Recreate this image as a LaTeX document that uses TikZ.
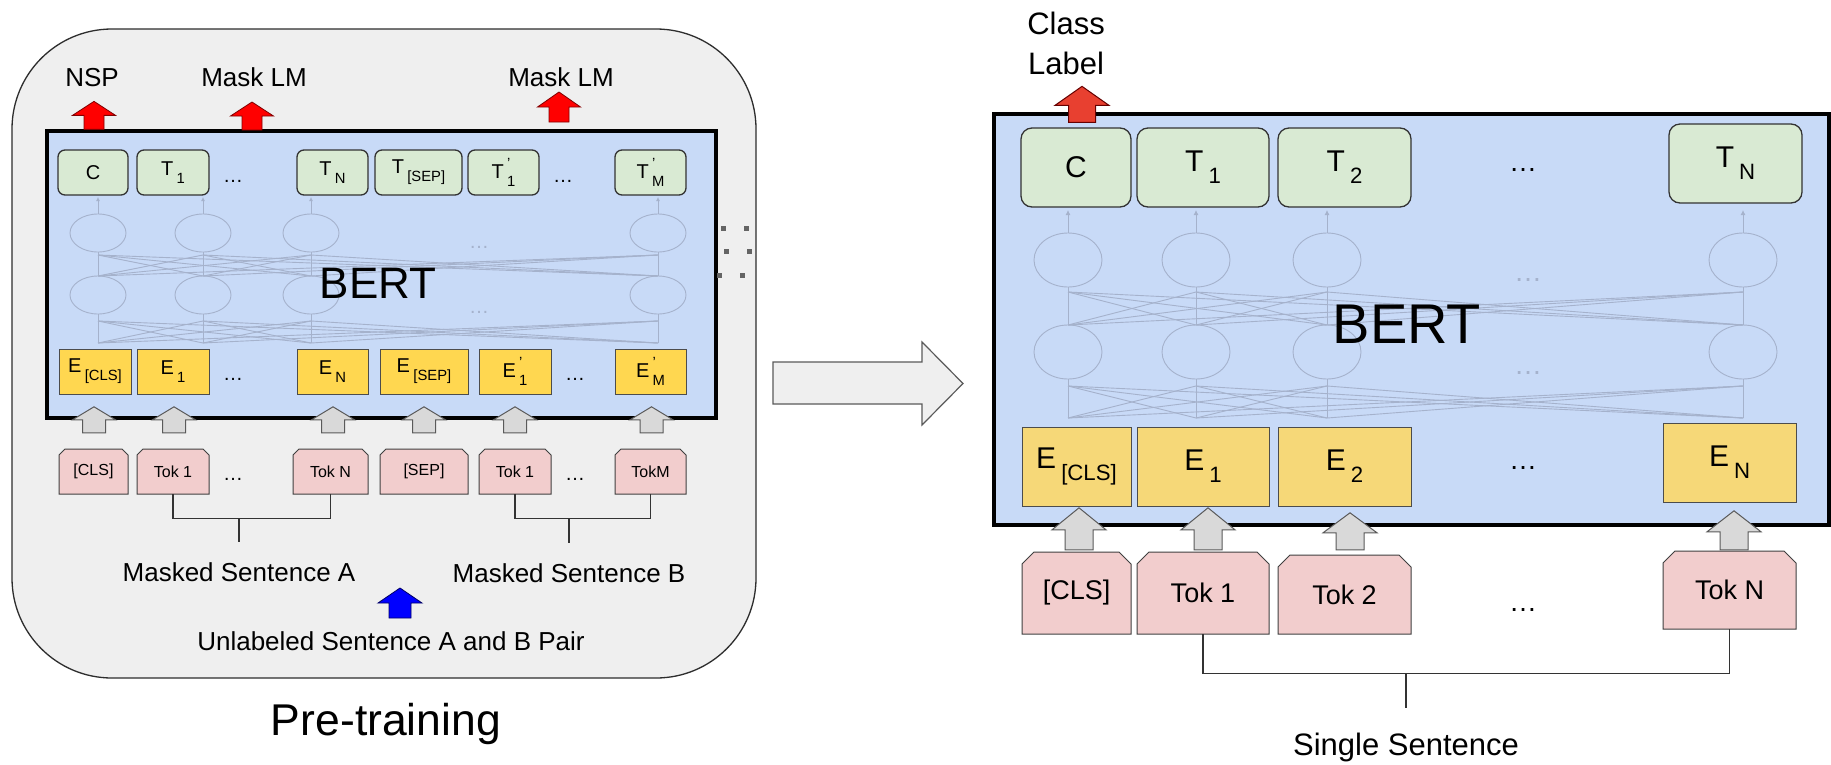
\documentclass[tikz,border=0pt]{standalone}
\usepackage{fontspec}
\setmainfont{Liberation Sans}
\usetikzlibrary{arrows.meta}
\definecolor{outerfill}{RGB}{239,239,239}
\definecolor{outerline}{RGB}{45,45,45}
\definecolor{bertblue}{RGB}{200,218,247}
\definecolor{tgreen}{RGB}{217,234,211}
\definecolor{eyellowL}{RGB}{255,215,80}
\definecolor{eyellowR}{RGB}{246,216,120}
\definecolor{tokpink}{RGB}{242,205,205}
\definecolor{arrgray}{RGB}{217,217,217}
\definecolor{arrline}{RGB}{90,90,90}
\definecolor{redL}{RGB}{255,0,0}
\definecolor{redR}{RGB}{232,64,48}
\definecolor{blueA}{RGB}{0,0,255}
\definecolor{netline}{RGB}{165,178,204}
\definecolor{dotgray}{RGB}{100,100,100}

\newcommand{\lsub}[1]{\,\raisebox{-0.75ex}{\scalebox{0.74}{#1}}}
\newcommand{\lsubp}[1]{\,\rlap{\raisebox{0.95ex}{\scalebox{0.74}{'}}}\raisebox{-0.75ex}{\scalebox{0.74}{#1}}}
% #1 style, #2 base point, #3 dx, #4 gap above base, #5 length, #6 head length, #7 half head, #8 half shaft
\newcommand{\blockup}[8]{\draw[#1] ([shift={({#3-#8},{-(#4)})}]#2) -- ([shift={({#3-#8},{-(#4)-(#5)+(#6)})}]#2) -- ([shift={({#3-#7},{-(#4)-(#5)+(#6)})}]#2) -- ([shift={(#3,{-(#4)-(#5)})}]#2) -- ([shift={({#3+#7},{-(#4)-(#5)+(#6)})}]#2) -- ([shift={({#3+#8},{-(#4)-(#5)+(#6)})}]#2) -- ([shift={({#3+#8},{-(#4)})}]#2) -- cycle;}
% #1 style #2 name #3 cx #4 cy #5 w #6 h #7 chamfer #8 text
\newcommand{\tokbox}[8]{\draw[tokdraw] ({#3-#5/2},{#4+#6/2}) -- ({#3-#5/2},{#4-#6/2+#7}) -- ({#3-#5/2+#7},{#4-#6/2}) -- ({#3+#5/2-#7},{#4-#6/2}) -- ({#3+#5/2},{#4-#6/2+#7}) -- ({#3+#5/2},{#4+#6/2}) -- cycle;
\node[#1, minimum width=#5pt, minimum height=#6pt] (#2) at (#3,#4) {#8};}

\begin{document}
\begin{tikzpicture}[x=1pt,y=-1pt,
  outerbox/.style={draw=outerline, line width=1.3pt, fill=outerfill, rounded corners=100pt},
  bertbox/.style={draw=black, line width=4pt, fill=bertblue},
  tL/.style={draw=black!80, fill=tgreen, rounded corners=7pt, line width=1.3pt, minimum height=45pt, inner sep=0pt, font=\fontsize{20}{22}\selectfont},
  tR/.style={tL, rounded corners=11pt, minimum height=79pt, font=\fontsize{30}{32}\selectfont},
  eL/.style={draw=black!70, fill=eyellowL, line width=1pt, minimum height=45pt, inner sep=0pt, font=\fontsize{20}{22}\selectfont},
  eR/.style={eL, fill=eyellowR, minimum height=79pt, font=\fontsize{30}{32}\selectfont},
  tokL/.style={inner sep=0pt, font=\fontsize{16}{18}\selectfont},
  tokR/.style={inner sep=0pt, font=\fontsize{27}{30}\selectfont},
  tokdraw/.style={draw=black!75, fill=tokpink, line width=1pt},
  dotsL/.style={inner sep=0pt, font=\fontsize{20}{22}\selectfont},
  dotsR/.style={inner sep=0pt, font=\fontsize{28}{30}\selectfont},
  lab/.style={inner sep=0pt, anchor=base, font=\fontsize{26}{30}\selectfont},
  labR/.style={inner sep=0pt, anchor=base, font=\fontsize{31}{36}\selectfont},
  net/.style={draw=netline, line width=0.9pt},
  bracket/.style={draw=black!80, line width=1.3pt},
  grayarr/.style={draw=arrline, fill=arrgray, line width=1pt},
  redarrL/.style={draw=red!50!black, fill=redL, line width=0.8pt},
  redarrR/.style={draw=red!40!black, fill=redR, line width=1pt},
  bluearr/.style={draw=blue!40!black, fill=blueA, line width=0.8pt},
  bigarrow/.style={draw=arrline, fill=outerfill, line width=1.2pt}]
\useasboundingbox (0,0) rectangle (1831,764);
\fill[white] (0,0) rectangle (1831,764);

% ================= LEFT: pre-training =================
\draw[outerbox] (12,29) rectangle (756,678);
\draw[bertbox] (47,131) rectangle (716,418);

\foreach \a in {98,203,311,658}{
  \foreach \b in {98,203,311,658}{
    \draw[net] (\a,343) -- (\b,321);
    \draw[net] (\a,276) -- (\b,255);
  }
  \draw[net] (\a,343) -- (\a,314);
  \draw[net] (\a,276) -- (\a,252);
  \draw[net,-{Latex[length=4pt,width=4pt]}] (\a,214) -- (\a,197);
  \draw[net] (\a,233) ellipse [x radius=28pt, y radius=19pt];
  \draw[net] (\a,295) ellipse [x radius=28pt, y radius=19pt];
}
\node[dotsL, text=netline] (lnd1) at (479,247) {\ldots};
\node[dotsL, text=netline] (lnd2) at (479,312) {\ldots};
\node[inner sep=0pt, anchor=base, font=\fontsize{44}{48}\selectfont] (lbert) at (378,298) {BERT};

\node[tL, minimum width=70pt] (lC) at (93,172.5) {C};
\node[tL, minimum width=72pt] (lT1) at (173,172.5) {T\lsub{1}};
\node[dotsL] (ldT) at (233,181) {\ldots};
\node[tL, minimum width=71pt] (lTN) at (332.5,172.5) {T\lsub{N}};
\node[tL, minimum width=87pt] (lTS) at (418.5,172.5) {T\lsub{[SEP]}};
\node[tL, minimum width=71pt] (lT1p) at (503.5,172.5) {T\lsubp{1}};
\node[dotsL] (ldT2) at (563,181) {\ldots};
\node[tL, minimum width=71pt] (lTM) at (650.5,172.5) {T\lsubp{M}};

\node[eL, minimum width=72pt] (lEC) at (95,371.5) {E\lsub{[CLS]}};
\node[eL, minimum width=72pt] (lE1) at (173,371.5) {E\lsub{1}};
\node[dotsL] (ldE) at (233,379) {\ldots};
\node[eL, minimum width=71pt] (lEN) at (332.5,371.5) {E\lsub{N}};
\node[eL, minimum width=88pt] (lES) at (424,371.5) {E\lsub{[SEP]}};
\node[eL, minimum width=72pt] (lE1p) at (515,371.5) {E\lsubp{1}};
\node[dotsL] (ldE2) at (575,379) {\ldots};
\node[eL, minimum width=71pt] (lEM) at (650.5,371.5) {E\lsubp{M}};

\tokbox{tokL}{lkc}{93.5}{471.5}{69}{45}{6}{[CLS]}
\tokbox{tokL}{lk1}{173}{471.5}{72}{45}{6}{Tok 1}
\node[dotsL] (ldK) at (233,479) {\ldots};
\tokbox{tokL}{lkn}{330.5}{471.5}{75}{45}{6}{Tok N}
\tokbox{tokL}{lks}{424}{471.5}{88}{45}{6}{[SEP]}
\tokbox{tokL}{lk1p}{515}{471.5}{72}{45}{6}{Tok 1}
\node[dotsL] (ldK2) at (575,479) {\ldots};
\tokbox{tokL}{lkm}{650.5}{471.5}{71}{45}{6}{TokM}

% gray input arrows
\blockup{grayarr}{lkc.north}{0.5}{16}{26}{13}{21.5}{11.5}
\blockup{grayarr}{lk1.north}{1}{16}{26}{13}{21.5}{11.5}
\blockup{grayarr}{lkn.north}{2.5}{16}{26}{13}{21.5}{11.5}
\blockup{grayarr}{lks.north}{0}{16}{26}{13}{21.5}{11.5}
\blockup{grayarr}{lk1p.north}{0}{16}{26}{13}{21.5}{11.5}
\blockup{grayarr}{lkm.north}{1}{16}{26}{13}{21.5}{11.5}

% red output arrows
\coordinate (mlmA) at (252,130);
\coordinate (mlmB) at (559,122);
\blockup{redarrL}{lC.north}{1}{20}{28}{14}{21.5}{10}
\blockup{redarrL}{mlmA}{0}{0}{28}{14}{21.5}{10}
\blockup{redarrL}{mlmB}{0}{0}{30}{15}{21.5}{10}
\node[lab] (lnsp) at (92,86) {NSP};
\node[lab] (lmlm1) at (254,86) {Mask LM};
\node[lab] (lmlm2) at (561,86) {Mask LM};

% brackets
\draw[bracket] (lk1.south) -- ++(0,24) -| (lkn.south);
\draw[bracket] (lk1p.south) -- ++(0,24) -| (lkm.south);
\coordinate (jA) at (239,518); \coordinate (sA) at (239,542);
\coordinate (jB) at (569,518); \coordinate (sB) at (569,543);
\draw[bracket] (jA) -- (sA);
\draw[bracket] (jB) -- (sB);
\node[lab] (lmsa) at (239,581) {Masked Sentence A};
\node[lab] (lmsb) at (569,582) {Masked Sentence B};
\coordinate (bsrc) at (400,618);
\blockup{bluearr}{bsrc}{0}{0}{30}{15}{22}{11}
\node[lab] (lunl) at (391,650) {Unlabeled Sentence A and B Pair};
\node[inner sep=0pt, anchor=base, font=\fontsize{44.5}{50}\selectfont] (lpre) at (386,735) {Pre-training};

% ================= MIDDLE =================
\foreach \x/\y in {723/228,746/228,726/251,749/251,719/275,742/275}
  \fill[dotgray] (\x-2.5,\y-2.5) rectangle (\x+2.5,\y+2.5);
\draw[bigarrow] (773,362) -- (922,362) -- (922,342) -- (963,383.5) -- (922,425) -- (922,404) -- (773,404) -- cycle;

% ================= RIGHT: fine-tuning =================
\draw[bertbox] (994,113.5) rectangle (1829,525);
\foreach \a in {1068,1196,1327,1743}{
  \foreach \b in {1068,1196,1327,1743}{
    \draw[net] (\a,418) -- (\b,386);
    \draw[net] (\a,325) -- (\b,292);
  }
  \draw[net] (\a,418) -- (\a,379);
  \draw[net] (\a,325) -- (\a,287);
  \draw[net,-{Latex[length=5pt,width=5pt]}] (\a,233) -- (\a,210);
  \draw[net] (\a,260) ellipse [x radius=34pt, y radius=27pt];
  \draw[net] (\a,352) ellipse [x radius=34pt, y radius=27pt];
}
\node[dotsR, text=netline] (rnd1) at (1528,280) {\ldots};
\node[dotsR, text=netline] (rnd2) at (1528,373) {\ldots};
\node[inner sep=0pt, anchor=base, font=\fontsize{56}{60}\selectfont] (rbert) at (1407,343) {BERT};

\node[tR, minimum width=110pt] (rC) at (1076,167.5) {C};
\node[tR, minimum width=132pt] (rT1) at (1203,167.5) {T\lsub{1}};
\node[tR, minimum width=133pt] (rT2) at (1344.5,167.5) {T\lsub{2}};
\node[dotsR] (rdT) at (1523,170) {\ldots};
\node[tR, minimum width=133pt] (rTN) at (1735.5,163.5) {T\lsub{N}};

\node[eR, minimum width=109pt] (rEC) at (1076.5,466.5) {E\lsub{[CLS]}};
\node[eR, minimum width=132pt] (rE1) at (1203,466.5) {E\lsub{1}};
\node[eR, minimum width=133pt] (rE2) at (1344.5,466.5) {E\lsub{2}};
\node[dotsR] (rdE) at (1523,468) {\ldots};
\node[eR, minimum width=133pt] (rEN) at (1729.5,462.5) {E\lsub{N}};

\tokbox{tokR}{rkc}{1076.5}{593}{109}{82}{12}{[CLS]}
\tokbox{tokR}{rk1}{1203}{593}{132}{82}{12}{Tok 1}
\tokbox{tokR}{rk2}{1344.5}{594.5}{133}{79}{12}{Tok 2}
\node[dotsR] (rdK) at (1523,610) {\ldots};
\tokbox{tokR}{rkn}{1729.5}{590}{133}{78}{12}{Tok N}

\blockup{grayarr}{rkc.north}{2.5}{2}{42}{22}{27}{14}
\blockup{grayarr}{rk1.north}{5}{2}{42}{22}{27}{14}
\blockup{grayarr}{rk2.north}{5.5}{5}{37}{20}{27}{14}
\blockup{grayarr}{rkn.north}{4.5}{1}{39}{21}{27}{14}

\blockup{redarrR}{rC.north}{6}{5}{36}{19}{27}{13.5}
\node[labR] (rcl1) at (1066,34) {Class};
\node[labR] (rcl2) at (1066,74) {Label};

\draw[bracket] (rk1.south) -- ++(0,39) -| (rkn.south);
\coordinate (jR) at (1406,673); \coordinate (sR) at (1406,708);
\draw[bracket] (jR) -- (sR);
\node[labR] (rss) at (1406,755) {Single Sentence};
\end{tikzpicture}
\end{document}
